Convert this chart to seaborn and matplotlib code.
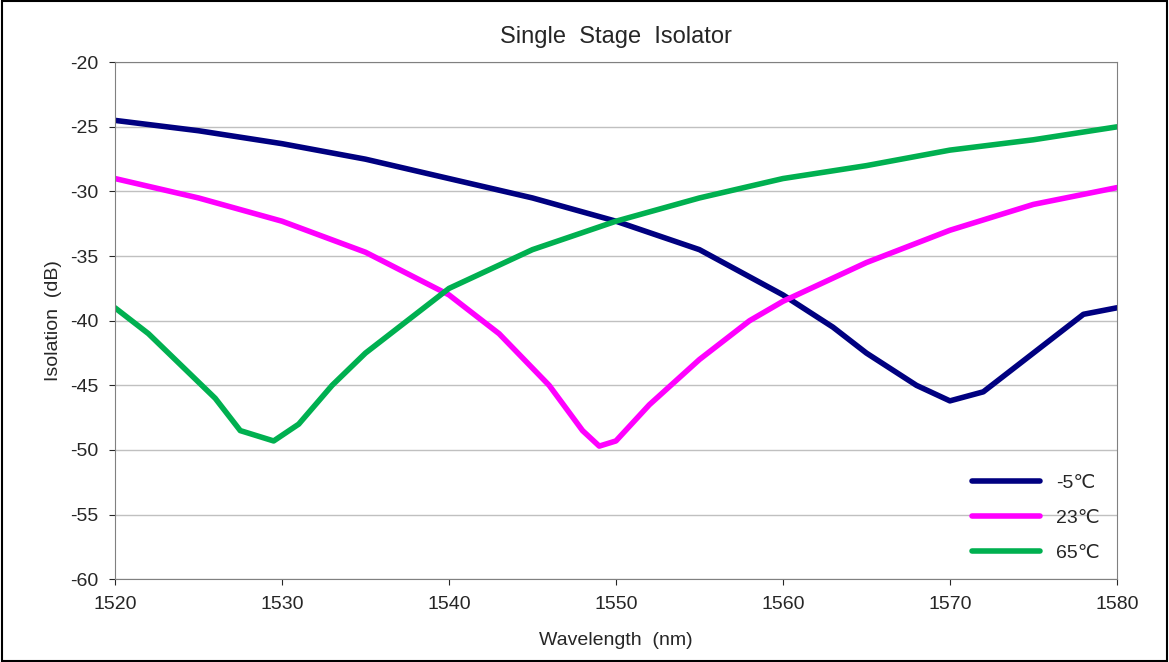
import numpy as np
import pandas as pd
import seaborn as sns
import matplotlib.pyplot as plt

# data
wl_cold = [1520, 1525, 1530, 1535, 1540, 1545, 1550, 1555, 1560, 1563, 1565, 1568, 1570, 1572, 1574, 1576, 1578, 1580]
iso_cold = [-24.5, -25.3, -26.3, -27.5, -29.0, -30.5, -32.3, -34.5, -38.0, -40.5, -42.5, -45.0, -46.2, -45.5, -43.5, -41.5, -39.5, -39.0]

wl_room = [1520, 1525, 1530, 1535, 1540, 1543, 1546, 1548, 1549, 1550, 1552, 1555, 1558, 1560, 1565, 1570, 1575, 1580]
iso_room = [-29.0, -30.5, -32.3, -34.7, -38.0, -41.0, -45.0, -48.5, -49.7, -49.3, -46.5, -43.0, -40.0, -38.5, -35.5, -33.0, -31.0, -29.7]

wl_hot = [1520, 1522, 1524, 1526, 1527.5, 1529.5, 1531, 1533, 1535, 1538, 1540, 1545, 1550, 1555, 1560, 1565, 1570, 1575, 1580]
iso_hot = [-39.0, -41.0, -43.5, -46.0, -48.5, -49.3, -48.0, -45.0, -42.5, -39.5, -37.5, -34.5, -32.3, -30.5, -29.0, -28.0, -26.8, -26.0, -25.0]

labels = ["-5℃", "23℃", "65℃"]
colors = ["#000080", "#FF00FF", "#00B050"]

df = pd.concat([
    pd.DataFrame({"wl": wl_cold, "iso": iso_cold, "T": labels[0]}),
    pd.DataFrame({"wl": wl_room, "iso": iso_room, "T": labels[1]}),
    pd.DataFrame({"wl": wl_hot, "iso": iso_hot, "T": labels[2]}),
])

sns.set_style("white")
plt.rcParams['font.family'] = ['Liberation Sans', 'DejaVu Sans']
plt.rcParams['axes.unicode_minus'] = False

fig = plt.figure(figsize=(11.69, 6.62), dpi=100)
ax = fig.add_axes([0.0984, 0.125, 0.857, 0.781])
sns.lineplot(data=df, x="wl", y="iso", hue="T", palette=colors, linewidth=4, ax=ax, sort=True)

ax.set_xlim(1520, 1580)
ax.set_ylim(-60, -20)
ax.set_xticks(range(1520, 1581, 10))
ax.set_yticks(range(-60, -19, 5))
ax.yaxis.grid(True, color="#c0c0c0", linewidth=1)
ax.tick_params(labelsize=14, direction="out", length=4, left=True, bottom=True, pad=8)
for s in ax.spines.values():
    s.set_color("#808080")
ax.set_xlabel("Wavelength  (nm)", fontsize=14, labelpad=14)
ax.set_ylabel("Isolation  (dB)", fontsize=14, labelpad=6)
ax.set_title("Single  Stage  Isolator", fontsize=17, pad=14)
ax.legend(frameon=False, fontsize=14, loc="lower right", bbox_to_anchor=(1.0, 0.0),
          handlelength=3.5, labelspacing=0.9)

fig.patches.append(plt.Rectangle((0.002, 0.002), 0.996, 0.996, transform=fig.transFigure,
                                 fill=False, edgecolor="black", linewidth=1.5))
fig.savefig("out.png", dpi=100)
